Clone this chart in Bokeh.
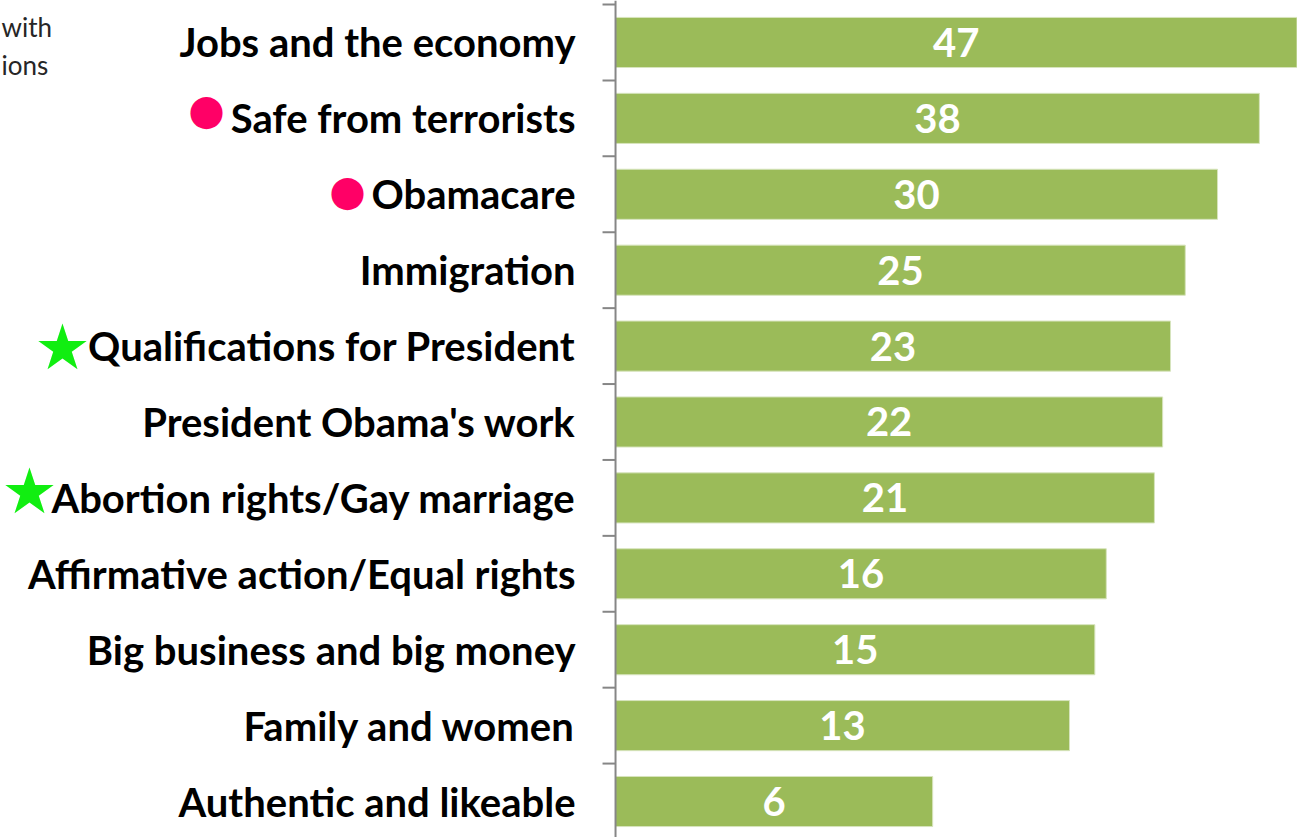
import math
from bokeh.plotting import figure
from bokeh.models import Range1d, Label, Span, ColumnDataSource
from bokeh.core.properties import value
from bokeh.embed import file_html
from bokeh.resources import INLINE

# ---- data ----
categories = [
    "Jobs and the economy",
    "Safe from terrorists",
    "Obamacare",
    "Immigration",
    "Qualifications for President",
    "President Obama's work",
    "Abortion rights/Gay marriage",
    "Affirmative action/Equal rights",
    "Big business and big money",
    "Family and women",
    "Authentic and likeable",
]
values = [47, 38, 30, 25, 23, 22, 21, 16, 15, 13, 6]
circle_items = ["Safe from terrorists", "Obamacare"]
star_items = ["Qualifications for President", "Abortion rights/Gay marriage"]
note_lines = ["with", "ions"]

# ---- layout / style (pixels) ----
circle_dx = {"Safe from terrorists": -409, "Obamacare": -268}
circle_dy = {"Safe from terrorists": -9, "Obamacare": -4}
star_dx = {"Qualifications for President": -553, "Abortion rights/Gay marriage": -586}
star_dy = {"Qualifications for President": 1, "Abortion rights/Gay marriage": -6}
BAR = "#9BBB59"
BAR_EDGE = "#D7E4BD"
AX = "#868686"

# ---- derived ----
n = len(categories)
rows = list(range(n))
src = ColumnDataSource(dict(
    y=rows, v=values, base=[1] * n, cat=categories,
    mid=[math.sqrt(v) for v in values],
    lab=[str(v) for v in values],
))
bounds = [r - 0.5 for r in rows] + [n - 0.5]
tick_src = ColumnDataSource(dict(x=[1] * len(bounds), y=bounds))
circ_src = ColumnDataSource(dict(
    x=[1] * len(circle_items),
    y=[categories.index(c) for c in circle_items],
    dx=[circle_dx[c] for c in circle_items],
    dy=[circle_dy[c] for c in circle_items],
    t=["\u25CF"] * len(circle_items),
))
star_src = ColumnDataSource(dict(
    x=[1] * len(star_items),
    y=[categories.index(c) for c in star_items],
    dx=[star_dx[c] for c in star_items],
    dy=[star_dy[c] for c in star_items],
    t=["\u2605"] * len(star_items),
))

p = figure(
    width=1297, height=837,
    x_axis_type="log",
    x_range=Range1d(0.03097, 47.13),
    y_range=Range1d(10.474, -0.553),
    x_axis_location=None, y_axis_location=None,
    output_backend="svg", toolbar_location=None,
    min_border_left=0, min_border_right=0,
    min_border_top=0, min_border_bottom=0,
)
p.grid.visible = False
p.outline_line_color = None

# bars
p.hbar(y="y", left="base", right="v", height=0.66, source=src,
       fill_color=BAR, line_color=BAR_EDGE, line_width=1)

# category axis line and boundary ticks
p.add_layout(Span(location=1, dimension="height", line_color=AX, line_width=2))
p.ray(x="x", y="y", length=13, length_units="screen", angle=math.pi,
      source=tick_src, line_color=AX, line_width=2)

# category labels
p.text(x="base", y="y", text="cat", source=src, x_offset=-40,
       text_align="right", text_baseline="middle",
       text_color="black", text_font=value("Lato"),
       text_font_style="bold", text_font_size="40px")

# value labels
p.text(x="mid", y="y", text="lab", source=src,
       text_align="center", text_baseline="middle",
       text_color="white", text_font=value("Lato"),
       text_font_style="bold", text_font_size="40px")

# markers
p.text(x="x", y="y", text="t", source=circ_src, x_offset="dx", y_offset="dy",
       text_align="center", text_baseline="middle",
       text_color="#FF0066", text_font=value("DejaVu Sans"),
       text_font_size="42px")
p.text(x="x", y="y", text="t", source=star_src, x_offset="dx", y_offset="dy",
       text_align="center", text_baseline="middle",
       text_color="#11EE11", text_font=value("DejaVu Sans"),
       text_font_size="63px")

# note at top-left
note_x = [1, 1]
note_y = [811, 773]
for t, nx, ny in zip(note_lines, note_x, note_y):
    p.add_layout(Label(x=nx, x_units="screen", y=ny, y_units="screen",
                       text=t, text_align="left", text_baseline="alphabetic",
                       text_font="Lato", text_font_size="26px",
                       text_color="#262626"))

open("out.html", "w").write(file_html(p, INLINE))
